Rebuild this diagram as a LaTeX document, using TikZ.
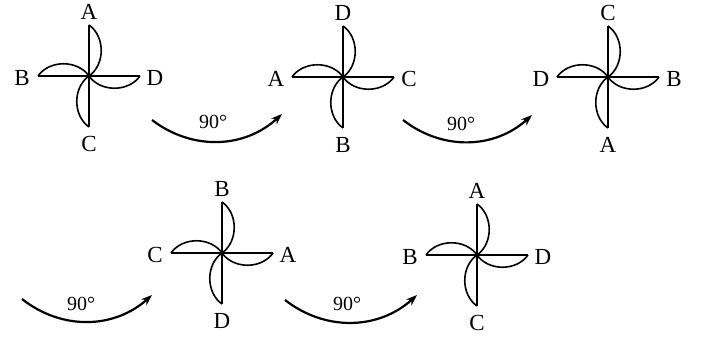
\documentclass[tikz,border=0pt]{standalone}
\usepackage{fontspec}
\setmainfont{Liberation Serif}
\usetikzlibrary{arrows.meta}
\begin{document}
\begin{tikzpicture}[x=1pt,y=1pt,
  stick/.style={line width=1.6pt},
  blade/.style={line width=1.6pt, bend left=55},
  lab/.style={font=\fontsize{23}{25}\selectfont, inner sep=0pt},
  turn/.style={line width=2.2pt, bend right=40, -{Stealth[length=11pt,width=8pt]}},
  deg/.style={font=\fontsize{20}{22}\selectfont, inner sep=0pt},
  pics/fan/.style args={#1/#2/#3/#4}{code={
    % two crossed sticks
    \coordinate (-c) at (0,0);
    \coordinate (-n) at (0,51);
    \coordinate (-e) at (51,0);
    \coordinate (-s) at (0,-51);
    \coordinate (-w) at (-51,0);
    \draw[stick] (-w) -- (-e) (-n) -- (-s);
    % four blades, each curving from the tip back to the hub
    \draw[blade] (-n) to (-c);
    \draw[blade] (-e) to (-c);
    \draw[blade] (-s) to (-c);
    \draw[blade] (-w) to (-c);
    \fill (-c) circle (2.6);
    % letters at the arm tips
    \node[lab] (-top) at (0,64) {#1};
    \node[lab] (-left) at (-67,-2) {#2};
    \node[lab] (-right) at (66,-2) {#3};
    \node[lab] (-bottom) at (0,-68) {#4};
  }}]
\useasboundingbox (0,0) rectangle (701,343);
\fill[white] (0,0) rectangle (701,343);

% top row
\pic (f1) at (89,267) {fan=A/B/D/C};
\pic (f2) at (343,266) {fan=D/A/C/B};
\pic (f3) at (608,266) {fan=C/D/B/A};
% bottom row
\pic (f4) at (222,90) {fan=B/C/A/D};
\pic (f5) at (477,88) {fan=A/B/D/C};

% quarter-turn arrows
\coordinate (a1s) at (152,223); \coordinate (a1e) at (282,229);
\coordinate (a2s) at (403,223); \coordinate (a2e) at (532,228);
\coordinate (a3s) at (22,44);   \coordinate (a3e) at (152,48);
\coordinate (a4s) at (285,43);  \coordinate (a4e) at (417,48);
\draw[turn] (a1s) to (a1e);
\draw[turn] (a2s) to (a2e);
\draw[turn] (a3s) to (a3e);
\draw[turn] (a4s) to (a4e);
\node[deg] (d1) at (213,221) {90°};
\node[deg] (d2) at (461,219) {90°};
\node[deg] (d3) at (81,39) {90°};
\node[deg] (d4) at (347,39) {90°};
\end{tikzpicture}
\end{document}
